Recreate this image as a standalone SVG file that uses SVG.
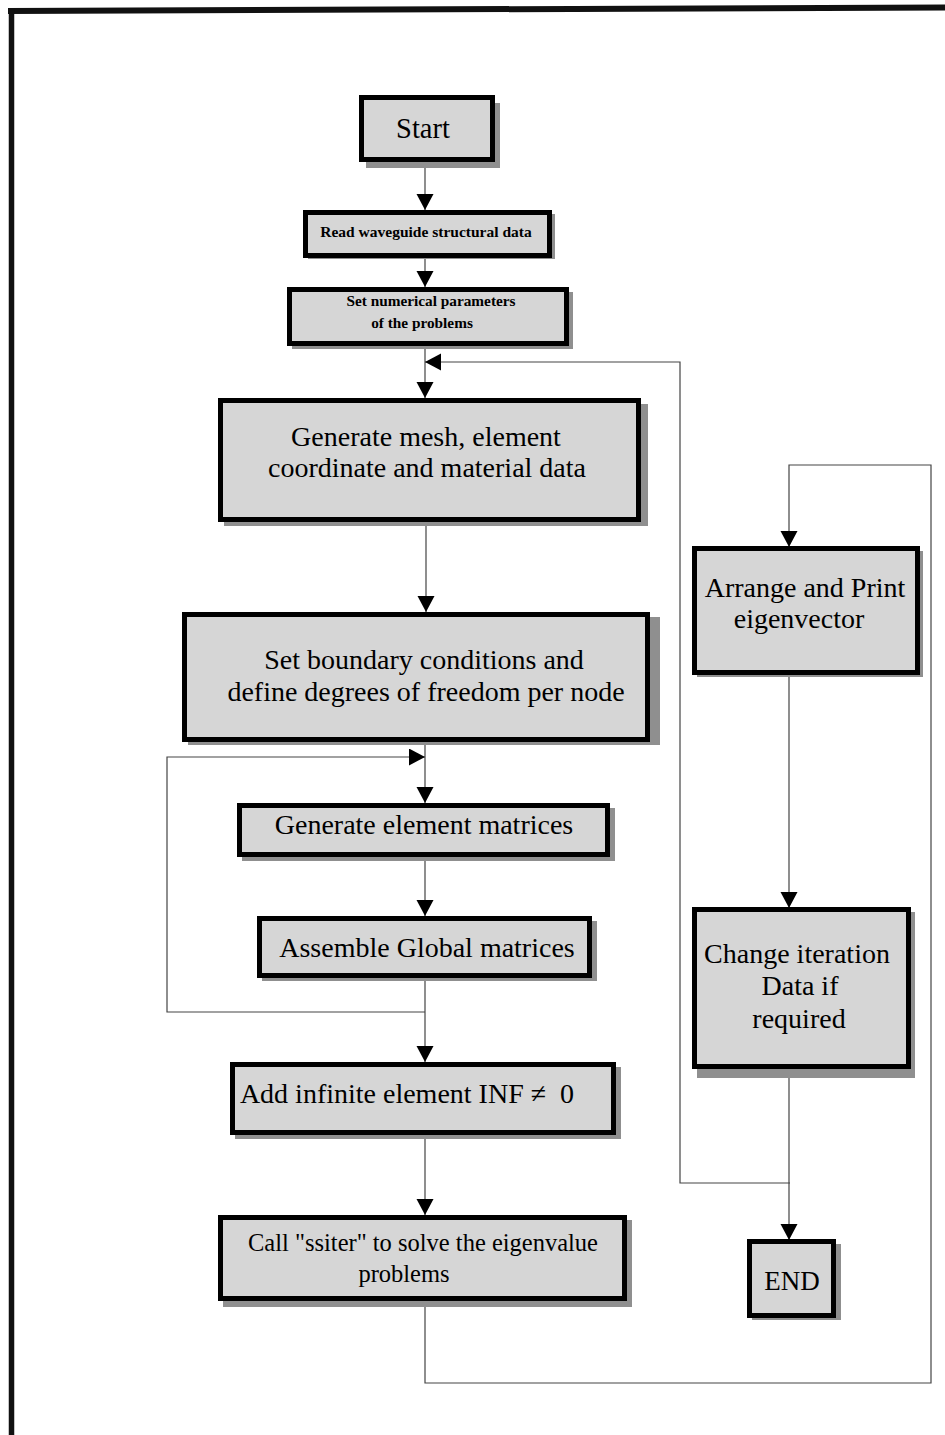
<svg xmlns="http://www.w3.org/2000/svg" width="945" height="1435" viewBox="0 0 945 1435">
<style>
.box{fill:#d6d6d6;stroke:#000;stroke-width:5}
.sh{fill:#8f8f8f}
.t{font-family:"Liberation Serif","Times New Roman",serif;fill:#000;text-anchor:middle}
.tb{font-weight:bold}
.c{fill:none;stroke:#444;stroke-width:1.2}
</style>
<defs>
<marker id="ah" markerUnits="userSpaceOnUse" markerWidth="18" markerHeight="18" refX="16" refY="8.5" orient="auto">
<path d="M0,0 L16,8.5 L0,17 Z" fill="#000"/>
</marker>
</defs>
<rect width="945" height="1435" fill="#fff"/>
<g id="page-border" stroke="#111" fill="none">
<line x1="8" y1="11" x2="945" y2="7.5" stroke-width="6"/>
<line x1="11.5" y1="8" x2="11.5" y2="1435" stroke-width="5.5"/>
</g>

<g id="connectors">
<path class="c" d="M425,168 V210" marker-end="url(#ah)"/>
<path class="c" d="M425,258 V287" marker-end="url(#ah)"/>
<path class="c" d="M425,349 V398" marker-end="url(#ah)"/>
<path class="c" d="M790,1183 H680 V362 H425" marker-end="url(#ah)"/>
<path class="c" d="M426,525 V612" marker-end="url(#ah)"/>
<path class="c" d="M425,745 V803" marker-end="url(#ah)"/>
<path class="c" d="M425,861 V916" marker-end="url(#ah)"/>
<path class="c" d="M425,981 V1062" marker-end="url(#ah)"/>
<path class="c" d="M425,1012 H167 V757 H425" marker-end="url(#ah)"/>
<path class="c" d="M425,1139 V1215" marker-end="url(#ah)"/>
<path class="c" d="M425,1307 V1383 H931 V465 H789 V547" marker-end="url(#ah)"/>
<path class="c" d="M789,677 V908" marker-end="url(#ah)"/>
<path class="c" d="M789,1078 V1240" marker-end="url(#ah)"/>
</g>

<g id="start">
<rect class="sh" x="366" y="103" width="134" height="65"/>
<rect class="box" x="361.5" y="97.5" width="131" height="62"/>
<text class="t" x="423" y="138" font-size="28.5">Start</text>
</g>

<g id="read">
<rect class="sh" x="308" y="214" width="247" height="45"/>
<rect class="box" x="305.5" y="212.5" width="244" height="43"/>
<text class="t tb" x="426" y="237" font-size="15.5">Read waveguide structural data</text>
</g>

<g id="setnum">
<rect class="sh" x="292" y="292" width="281" height="57"/>
<rect class="box" x="289.5" y="289.5" width="277" height="54"/>
<text class="t tb" x="431" y="306" font-size="15.3">Set numerical parameters</text>
<text class="t tb" x="422" y="328" font-size="15.3">of the problems</text>
</g>

<g id="genmesh">
<rect class="sh" x="224" y="404" width="424" height="122"/>
<rect class="box" x="220.5" y="400.5" width="418" height="119"/>
<text class="t" x="426" y="446" font-size="28">Generate mesh, element</text>
<text class="t" x="427" y="477" font-size="28">coordinate and material data</text>
</g>

<g id="setbound">
<rect class="sh" x="188" y="617" width="472" height="128"/>
<rect class="box" x="184.5" y="614.5" width="463" height="125"/>
<text class="t" x="424" y="669" font-size="28">Set boundary conditions and</text>
<text class="t" x="426" y="701" font-size="28">define degrees of freedom per node</text>
</g>

<g id="genelem">
<rect class="sh" x="242" y="808" width="373" height="53"/>
<rect class="box" x="239.5" y="805.5" width="368" height="49"/>
<text class="t" x="424" y="834" font-size="28">Generate element matrices</text>
</g>

<g id="assemble">
<rect class="sh" x="262" y="921" width="335" height="60"/>
<rect class="box" x="259.5" y="918.5" width="330" height="57"/>
<text class="t" x="427" y="957" font-size="28">Assemble Global matrices</text>
</g>

<g id="addinf">
<rect class="sh" x="235" y="1067" width="386" height="72"/>
<rect class="box" x="232.5" y="1064.5" width="381" height="68"/>
<text class="t" x="407" y="1103" font-size="28">Add infinite element INF ≠&#160; 0</text>
</g>

<g id="call">
<rect class="sh" x="223" y="1220" width="409" height="87"/>
<rect class="box" x="220.5" y="1217.5" width="404" height="81"/>
<text class="t" x="423" y="1251" font-size="24.5">Call "ssiter" to solve the eigenvalue</text>
<text class="t" x="404" y="1282" font-size="24.5">problems</text>
</g>

<g id="arrange">
<rect class="sh" x="697" y="551" width="226" height="126"/>
<rect class="box" x="694.5" y="548.5" width="223" height="124"/>
<text class="t" x="805" y="597" font-size="28">Arrange and Print</text>
<text class="t" x="799" y="628" font-size="28">eigenvector</text>
</g>

<g id="change">
<rect class="sh" x="697" y="912" width="218" height="166"/>
<rect class="box" x="694.5" y="909.5" width="214" height="157"/>
<text class="t" x="797" y="963" font-size="28">Change iteration</text>
<text class="t" x="800" y="995" font-size="28">Data if</text>
<text class="t" x="799" y="1028" font-size="28">required</text>
</g>

<g id="end">
<rect class="sh" x="752" y="1244" width="89" height="76"/>
<rect class="box" x="749.5" y="1241.5" width="84" height="74"/>
<text class="t" x="792" y="1290" font-size="27">END</text>
</g>
</svg>
